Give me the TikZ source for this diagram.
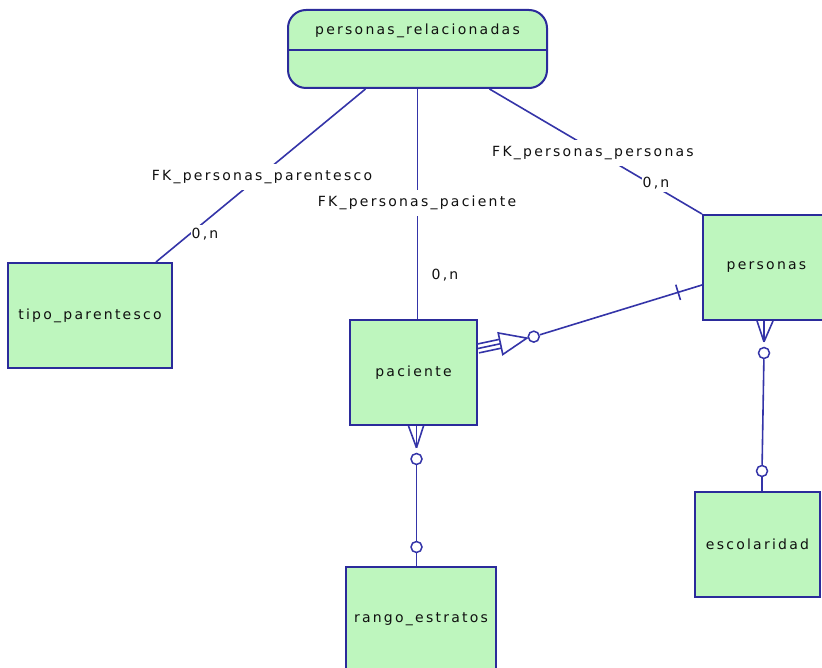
\documentclass[tikz,border=0pt]{standalone}
\usepackage{fontspec}
\newfontfamily\erfont[LetterSpace=16]{DejaVu Sans}
\usetikzlibrary{calc}
\definecolor{cfill}{HTML}{BEF6BE}
\definecolor{cnavy}{HTML}{2B2B9B}
\definecolor{cline}{HTML}{3434A8}
\definecolor{ctext}{HTML}{101010}
\tikzset{
  every picture/.style={font=\erfont\fontsize{14}{16}\selectfont, line width=1.6pt},
  entity/.style={draw=cnavy, fill=cfill, line width=2pt, minimum height=105pt, inner sep=0pt, text=ctext},
  link/.style={draw=cline, line width=1.6pt},
  fk/.style={fill=white, inner xsep=2pt, inner ysep=6pt, text=ctext},
  card/.style={fill=white, inner xsep=1pt, inner ysep=3pt, text=ctext},
  ring/.style={circle, draw=cline, fill=white, line width=1.5pt, minimum size=11pt, inner sep=0pt},
}
\begin{document}
\begin{tikzpicture}[x=1pt, y=-1pt]
  \fill[white] (0,0) rectangle (822,668);
  \useasboundingbox (0,0) rectangle (822,668);
  % entities, pixel coordinates from the top left corner
  \node[entity, rounded corners=18pt, minimum width=259pt, minimum height=78pt] (rel) at (417.5,49) {};
  \draw[cnavy, line width=2pt] ([yshift=-1pt]rel.west) -- ([yshift=-1pt]rel.east);
  \node[text=ctext] (reltitle) at (417.5,31) {personas\_relacionadas};
  \node[entity, minimum width=164pt] (tipo) at (90,315.5) {tipo\_parentesco};
  \node[entity, minimum width=127pt] (paciente) at (413.5,372.5) {paciente};
  \node[entity, minimum width=127pt] (personas) at (766.5,267.5) {personas};
  \node[entity, minimum width=150pt] (rango) at (421,619.5) {rango\_estratos};
  \node[entity, minimum width=125pt] (escolaridad) at (757.5,544.5) {escolaridad};

  % references out of personas_relacionadas
  \draw[link] ([xshift=-52pt]rel.south) -- ([xshift=-17pt]tipo.north east);
  \draw[link] (rel.south) -- (rel.south |- paciente.north);
  \draw[link] ([xshift=72pt]rel.south) -- (personas.north west);
  \node[fk] (fkpar) at (262,177) {FK\_personas\_parentesco};
  \node[fk] (fkpac) at (417,203) {FK\_personas\_paciente};
  \node[fk] (fkper) at (593,153) {FK\_personas\_personas};
  \node[card] (npar) at (205,234) {0,n};
  \node[card] (npac) at (445,275) {0,n};
  \node[card] (nper) at (656,183) {0,n};

  % paciente -- rango_estratos
  \node[ring] (ring1) at (416.5,459) {};
  \node[ring] (ring2) at (416.5,547) {};
  \draw[link] (ring1) -- (ring2);
  \draw[link] (ring2) -- (ring2 |- rango.north);
  \foreach \dx in {-8,0,7}
    \draw[link] ($(ring1.north |- paciente.south)+(\dx,0)$) -- ([yshift=5pt]ring1.north);

  % personas -- escolaridad
  \node[ring] (ring3) at (764,353) {};
  \node[ring] (ring4) at (762,471) {};
  \draw[link] (ring3) -- (ring4);
  \draw[link] (ring4) -- (ring4 |- escolaridad.north);
  \foreach \dx in {-7,0,9}
    \draw[link] ($(ring3.north |- personas.south)+(\dx,0)$) -- ([yshift=5pt]ring3.north);

  % paciente -- personas
  \coordinate (pa) at ([yshift=24pt]paciente.east);
  \coordinate (pb) at ([yshift=-17.5pt]personas.west);
  \node[ring] (ring5) at ($(pa)+(12:57pt)$) {};
  \draw[link] (ring5) -- (pb);
  \coordinate (bar) at ($(pb)!25pt!(ring5)$);
  \draw[link] ($(bar)!8pt!90:(pb)$) -- ($(bar)!8pt!-90:(pb)$);
  \begin{scope}[shift={(pa)}, rotate=12]
    \foreach \v in {-4.5,0,4.5} \draw[link] (0,\v) -- (23,\v);
    \draw[link] (23,-11) -- (23,11) -- (50,0) -- cycle;
  \end{scope}
\end{tikzpicture}
\end{document}
